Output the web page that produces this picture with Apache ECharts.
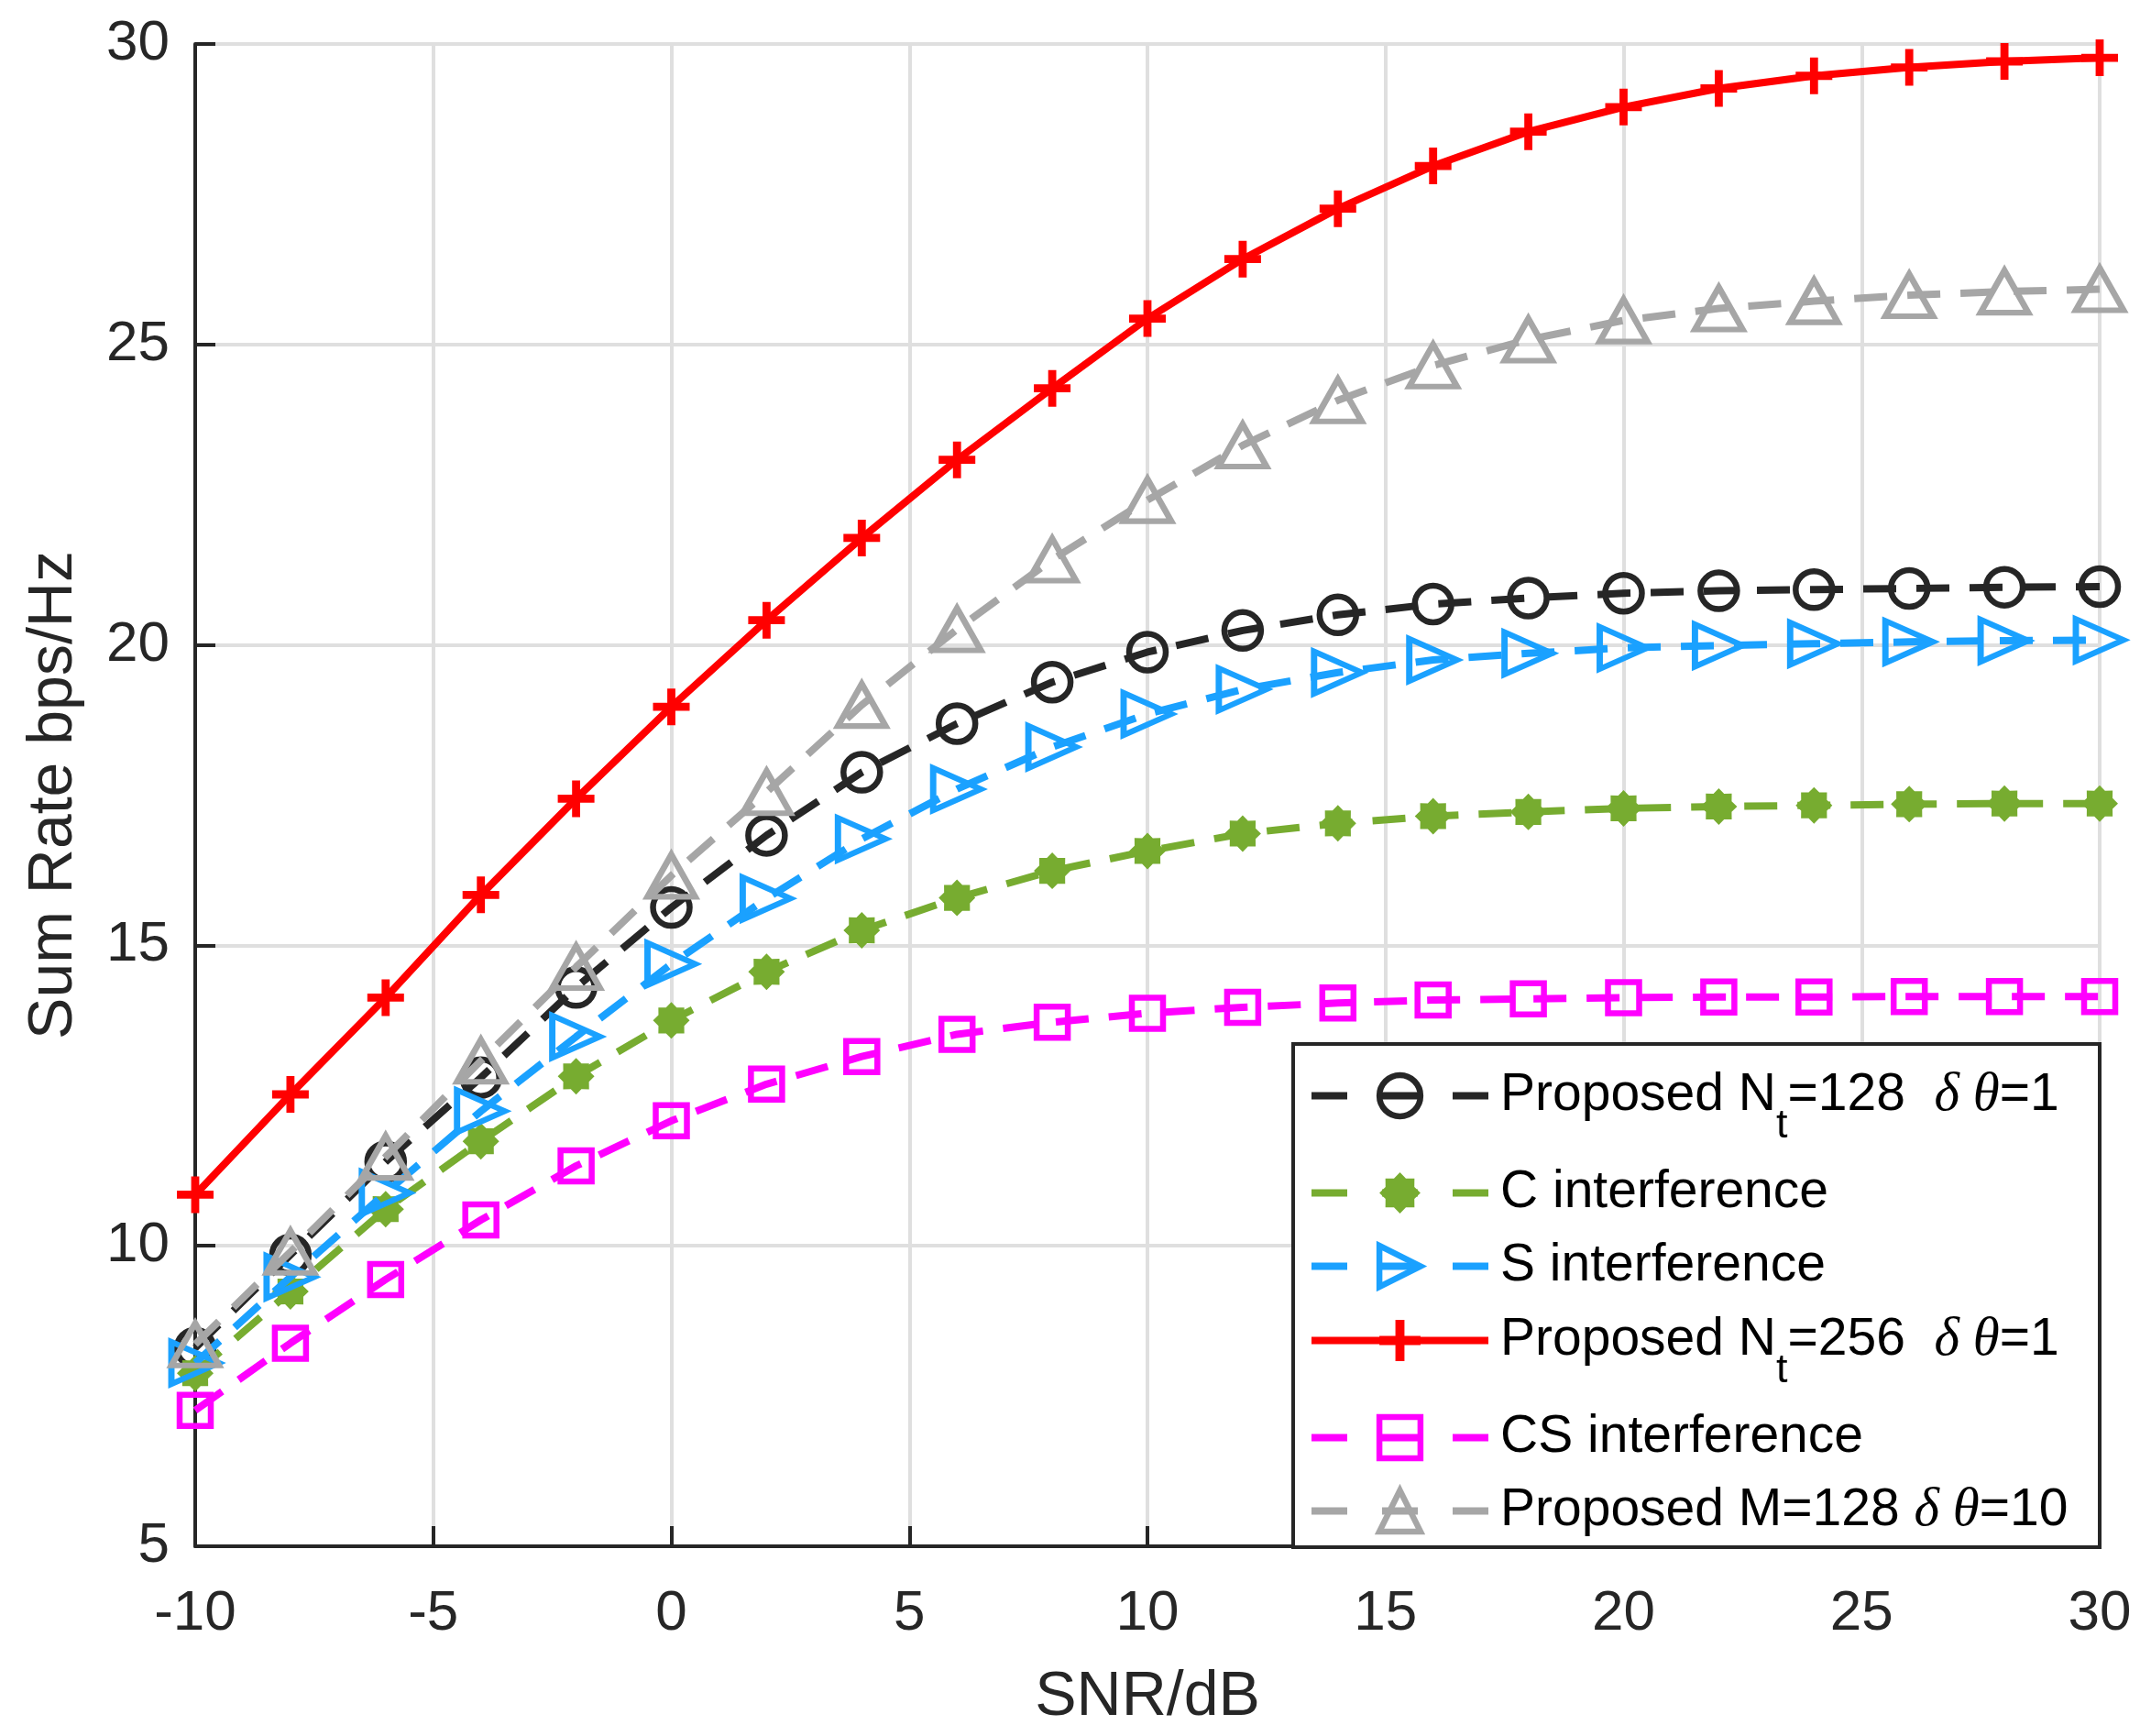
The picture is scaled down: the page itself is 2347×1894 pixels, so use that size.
<!DOCTYPE html>
<html>
<head>
<meta charset="utf-8">
<script src="https://cdn.jsdelivr.net/npm/echarts@6/dist/echarts.min.js"></script>
<style>
html,body{margin:0;padding:0;background:#fff;}
#chart{width:2347px;height:1894px;}
</style>
</head>
<body>
<div id="chart"></div>
<script>
// ---- data ----
const snr = [-10, -8, -6, -4, -2, 0, 2, 4, 6, 8, 10, 12, 14, 16, 18, 20, 22, 24, 26, 28, 30];
const xTicks = [-10, -5, 0, 5, 10, 15, 20, 25, 30];
const yTicks = [5, 10, 15, 20, 25, 30];

const seriesNames = [
  'Proposed Nt=128 δθ=1',
  'C interference',
  'S interference',
  'Proposed Nt=256 δθ=1',
  'CS interference',
  'Proposed M=128 δθ=10'
];
const proposed128 = [8.3, 9.85, 11.4, 12.8, 14.3, 15.63, 16.83, 17.88, 18.69, 19.38, 19.88, 20.24, 20.5, 20.68, 20.78, 20.86, 20.9, 20.92, 20.94, 20.96, 20.97];
const cInterf     = [7.88, 9.24, 10.61, 11.74, 12.82, 13.75, 14.56, 15.25, 15.79, 16.24, 16.57, 16.86, 17.03, 17.15, 17.22, 17.28, 17.31, 17.33, 17.35, 17.36, 17.36];
const sInterf     = [8.05, 9.48, 10.88, 12.24, 13.48, 14.69, 15.78, 16.77, 17.6, 18.3, 18.85, 19.26, 19.54, 19.75, 19.86, 19.95, 19.99, 20.02, 20.05, 20.07, 20.08];
const proposed256 = [10.85, 12.52, 14.13, 15.84, 17.44, 18.97, 20.41, 21.78, 23.08, 24.27, 25.43, 26.42, 27.26, 27.97, 28.54, 28.95, 29.26, 29.47, 29.61, 29.71, 29.77];
const csInterf    = [7.26, 8.38, 9.44, 10.43, 11.33, 12.08, 12.69, 13.15, 13.52, 13.72, 13.87, 13.97, 14.04, 14.09, 14.11, 14.13, 14.14, 14.14, 14.15, 14.15, 14.15];
const proposedM   = [8.36, 9.9, 11.48, 13.08, 14.64, 16.16, 17.55, 19.0, 20.26, 21.42, 22.41, 23.32, 24.07, 24.65, 25.08, 25.4, 25.6, 25.72, 25.82, 25.88, 25.92];

// ---- styling ----
const FONT = "'Liberation Sans', Arial, Helvetica, sans-serif";
const TXT = '#262626';
const colors = ['#262626', '#77AC30', '#1AA1FF', '#FF0000', '#FF00FF', '#A6A6A6'];

function starPath(n, rOut, rIn) {
  let d = '';
  for (let k = 0; k < 2 * n; k++) {
    const r = k % 2 === 0 ? rOut : rIn;
    const a = Math.PI * k / n - Math.PI / 2;
    const x = (50 + r * Math.cos(a)).toFixed(2), y = (50 + r * Math.sin(a)).toFixed(2);
    d += (k === 0 ? 'M' : 'L') + x + ',' + y;
  }
  return 'path://' + d + 'Z';
}
const plusPath = 'path://M39,0L61,0L61,39L100,39L100,61L61,61L61,100L39,100L39,61L0,61L0,39L39,39Z';
const astPath = starPath(8, 50, 38);

const BW = 6.5;
const hollow = c => ({ color: 'rgba(0,0,0,0)', borderColor: c, borderWidth: BW });
const dash = [36, 22];
const legendDash = [39, 38];

const data = [proposed128, cInterf, sInterf, proposed256, csInterf, proposedM];
const seriesCfg = [
  { symbol: 'circle', size: 40, rot: 0, item: hollow(colors[0]), type: dash },
  { symbol: astPath, size: 40, rot: 0, item: { color: colors[1], borderWidth: 0 }, type: dash },
  { symbol: 'triangle', size: [46, 52], rot: -90, item: hollow(colors[2]), type: dash },
  { symbol: plusPath, size: 40, rot: 0, item: { color: colors[3], borderWidth: 0 }, type: 'solid' },
  { symbol: 'rect', size: 34, rot: 0, item: hollow(colors[4]), type: dash },
  { symbol: 'triangle', size: [52, 46], rot: 0, item: hollow(colors[5]), type: dash }
];

const series = seriesNames.map((nm, i) => ({
  name: nm,
  type: 'line',
  data: snr.map((x, j) => [x, data[i][j]]),
  symbol: seriesCfg[i].symbol,
  symbolSize: seriesCfg[i].size,
  symbolRotate: seriesCfg[i].rot,
  showAllSymbol: true,
  clip: false,
  lineStyle: { color: colors[i], width: 8, type: seriesCfg[i].type },
  itemStyle: seriesCfg[i].item,
  emphasis: { disabled: true },
  z: 2 + i * 0.01
}));

// legend labels (rich text)
const legendRich = {
  n: { fontSize: 57, fontFamily: FONT, color: '#000', lineHeight: 64 },
  g: { fontSize: 59, fontFamily: "'Liberation Serif', 'DejaVu Serif', serif", fontStyle: 'italic', color: '#000', lineHeight: 64 },
  sub: { fontSize: 45, fontFamily: FONT, color: '#000', padding: [66, 0, 0, 0] }
};
const legendText = {};
legendText[seriesNames[0]] = '{n|Proposed N}{sub|t}{n|=128  }{g|δ θ}{n|=1}';
legendText[seriesNames[1]] = '{n|C interference}';
legendText[seriesNames[2]] = '{n|S interference}';
legendText[seriesNames[3]] = '{n|Proposed N}{sub|t}{n|=256  }{g|δ θ}{n|=1}';
legendText[seriesNames[4]] = '{n|CS interference}';
legendText[seriesNames[5]] = '{n|Proposed M=128 }{g|δ θ}{n|=10}';
const legendTops = [1166, 1273, 1353, 1433, 1540, 1619];

const legends = seriesNames.map((nm, i) => ({
  data: [nm],
  left: 1427,
  top: legendTops[i],
  orient: 'vertical',
  padding: 0,
  itemGap: 0,
  itemWidth: 193,
  itemHeight: 56,
  selectedMode: false,
  z: 5,
  formatter: name => legendText[name],
  lineStyle: { width: 8, color: colors[i], type: seriesCfg[i].type === 'solid' ? 'solid' : legendDash },
  itemStyle: { borderWidth: seriesCfg[i].item.borderWidth },
  textStyle: { padding: [0, 0, 0, 8], rich: legendRich }
}));

const chart = echarts.init(document.getElementById('chart'), null, { renderer: 'canvas' });
chart.setOption({
  animation: false,
  backgroundColor: '#fff',
  grid: { left: 213, right: 56, top: 48, bottom: 207, containLabel: false },
  xAxis: {
    type: 'value', min: xTicks[0], max: xTicks[xTicks.length - 1], interval: 5,
    name: 'SNR/dB', nameLocation: 'middle', nameGap: 131,
    nameTextStyle: { fontSize: 68, fontFamily: FONT, color: TXT },
    axisLine: { show: true, onZero: false, lineStyle: { color: TXT, width: 4 } },
    axisTick: { show: true, inside: true, length: 22, lineStyle: { color: TXT, width: 4 } },
    axisLabel: { fontSize: 62, fontFamily: FONT, color: TXT, margin: 43 },
    splitLine: { show: true, lineStyle: { color: '#DFDFDF', width: 4 } }
  },
  yAxis: {
    type: 'value', min: yTicks[0], max: yTicks[yTicks.length - 1], interval: 5,
    name: 'Sum Rate bps/Hz', nameLocation: 'middle', nameGap: 120,
    nameTextStyle: { fontSize: 68, fontFamily: FONT, color: TXT },
    axisLine: { show: true, onZero: false, lineStyle: { color: TXT, width: 4 } },
    axisTick: { show: true, inside: true, length: 22, lineStyle: { color: TXT, width: 4 } },
    axisLabel: { fontSize: 62, fontFamily: FONT, color: TXT, margin: 28 },
    splitLine: { show: true, lineStyle: { color: '#DFDFDF', width: 4 } }
  },
  legend: legends,
  graphic: [{
    type: 'rect', z: 4, left: 1409, top: 1137,
    shape: { width: 880, height: 549 },
    style: { fill: '#fff', stroke: TXT, lineWidth: 4 }
  }],
  series: series
});
</script>
</body>
</html>
